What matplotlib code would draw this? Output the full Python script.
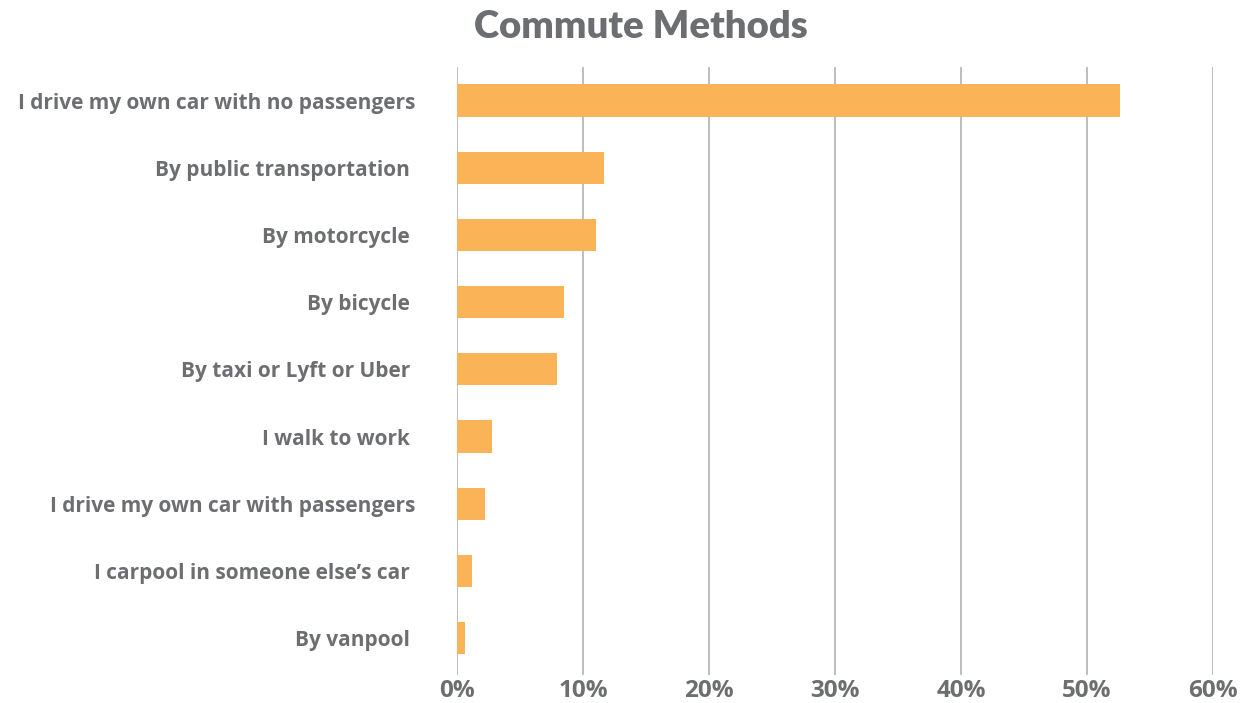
import matplotlib
matplotlib.use("Agg")
import matplotlib.pyplot as plt
from matplotlib.ticker import FuncFormatter

categories = [
    "I drive my own car with no passengers",
    "By public transportation ",
    "By motorcycle ",
    "By bicycle ",
    "By taxi or Lyft or Uber ",
    "I walk to work ",
    "I drive my own car with passengers",
    "I carpool in someone else\u2019s car ",
    "By vanpool ",
]
values = [52.6, 11.7, 11.0, 8.5, 7.9, 2.8, 2.2, 1.2, 0.6]
xticks = [0, 10, 20, 30, 40, 50, 60]

text_color = "#6d6e71"
bar_color = "#fbb357"
grid_color = "#b3b3b3"

plt.rcParams["font.family"] = ["Open Sans", "DejaVu Sans"]

fig = plt.figure(figsize=(12.4, 7.03), dpi=100)
ax = fig.add_axes([457/1240, 1-675/703, (1213-457)/1240, (675-67)/703])

y = list(range(len(categories)))
ax.barh(y, values, height=0.48, color=bar_color, zorder=3)
ax.set_ylim(len(categories) - 0.45, -0.5)
ax.set_xlim(0, 60)
ax.set_xticks(xticks)
ax.xaxis.set_major_formatter(FuncFormatter(lambda v, p: f"{int(v)}%"))
ax.set_yticks(y)
ax.set_yticklabels(categories)

ax.grid(axis="x", color=grid_color, linewidth=1.2, zorder=0)
for s in ax.spines.values():
    s.set_visible(False)
ax.tick_params(axis="both", length=0, colors=text_color)
ax.tick_params(axis="y", pad=30)
ax.tick_params(axis="x", pad=3)
for lbl in ax.get_yticklabels():
    lbl.set_fontsize(15)
    lbl.set_fontweight("bold")
    lbl.set_color(text_color)
for lbl in ax.get_xticklabels():
    lbl.set_fontsize(17.5)
    lbl.set_fontweight("bold")
    lbl.set_color(text_color)

fig.text(641/1240, 1-27/703, "Commute Methods", ha="center", va="center",
         fontsize=27.5, fontweight="heavy", color=text_color,
         family=["Lato", "DejaVu Sans"])

fig.savefig("out.png", dpi=100)
